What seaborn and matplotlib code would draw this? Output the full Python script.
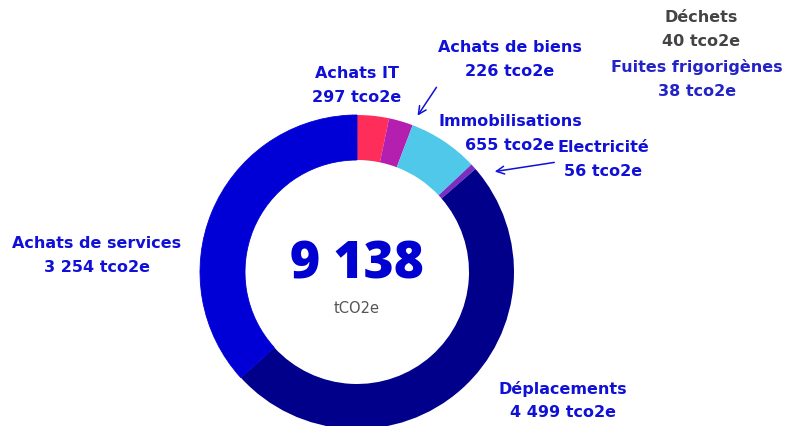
import matplotlib
matplotlib.use("Agg")
import matplotlib.pyplot as plt
import seaborn as sns

# data
postes = ["Achats IT", "Achats de biens", "Immobilisations", "Electricité",
          "Déplacements", "Achats de services", "Déchets", "Fuites frigorigènes"]
valeurs = [297, 226, 655, 56, 4499, 3254, 40, 38]
couleurs = ["#ff2d5a", "#b51fb0", "#4fc8ea", "#7a2fc0",
            "#00008b", "#0000d6", "#0000d6", "#0000d6"]
etiquettes = ["297 tco2e", "226 tco2e", "655 tco2e", "56 tco2e",
              "4 499 tco2e", "3 254 tco2e", "40 tco2e", "38 tco2e"]
total = "9 138"

sns.set_theme(style="white")
plt.rcParams["font.family"] = ["DejaVu Sans"]

fig = plt.figure(figsize=(7.91, 4.27), dpi=100)
ax = fig.add_axes([0, 0, 1, 1])

# pie in pixel coords (y inverted -> counterclock=True gives clockwise on screen)
wedges, _ = ax.pie(valeurs, colors=couleurs, startangle=-90, counterclock=True,
                   center=(357, 273), radius=157,
                   wedgeprops=dict(width=45, edgecolor="none"), frame=True)
for w in wedges[5:]:
    w.set_edgecolor(w.get_facecolor())
    w.set_linewidth(0.6)
ax.set_xlim(0, 791)
ax.set_ylim(427, 0)
ax.set_aspect("equal")
ax.axis("off")

bleu = "#1010d8"
pos = {
    "Achats IT": (357, 73, bleu),
    "Achats de biens": (510, 47, bleu),
    "Immobilisations": (510, 122, bleu),
    "Electricité": (603, 148, bleu),
    "Déplacements": (563, 389, bleu),
    "Achats de services": (97, 244, bleu),
    "Déchets": (701, 17, "#444444"),
    "Fuites frigorigènes": (697, 67, "#2323c8"),
}
for nom, lab in zip(postes, etiquettes):
    x, y, c = pos[nom]
    ax.text(x, y, nom, ha="center", va="center", fontsize=11.5, fontweight="bold", color=c)
    ax.text(x, y + 24, lab, ha="center", va="center", fontsize=11.5, fontweight="bold", color=c)

ax.annotate("", xy=(416, 119), xytext=(438, 86),
            arrowprops=dict(arrowstyle="->", color=bleu, lw=1.1, mutation_scale=14))
ax.annotate("", xy=(492, 173), xytext=(557, 163),
            arrowprops=dict(arrowstyle="->", color=bleu, lw=1.1, mutation_scale=14))

ax.text(357, 265, total, ha="center", va="center", fontsize=37, fontweight=800,
        family="Open Sans", color="#0000d0")
ax.text(357, 309, "tCO2e", ha="center", va="center", fontsize=10.5, color="#555555")

fig.savefig("out.png", dpi=100)
